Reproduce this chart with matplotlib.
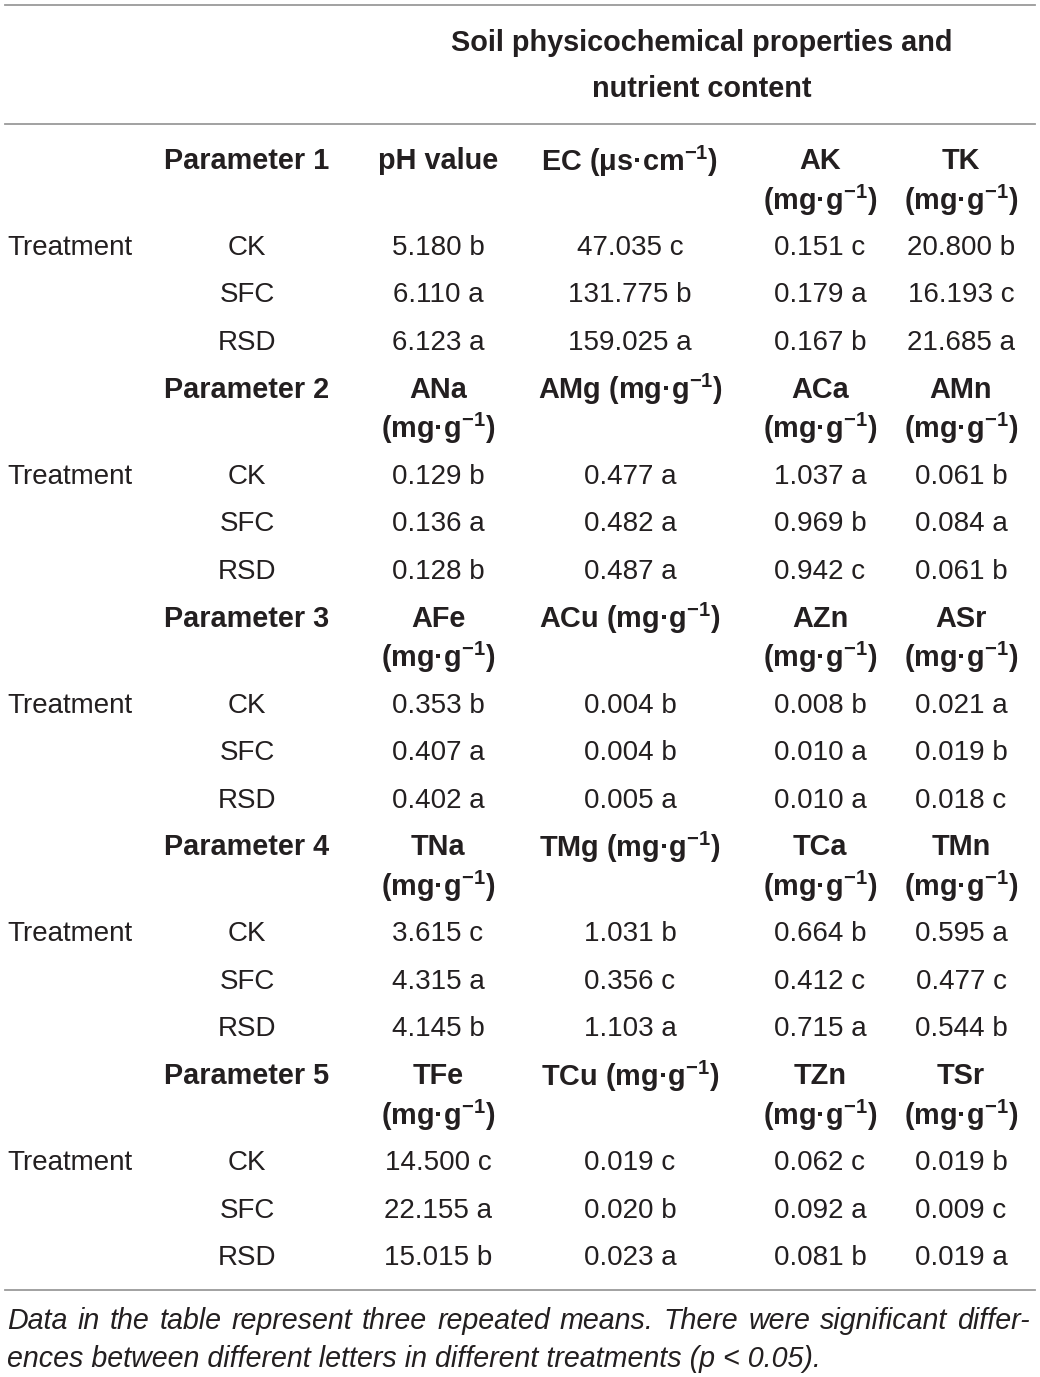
import numpy as np
import matplotlib
matplotlib.use("Agg")
import matplotlib.pyplot as plt

plt.rcParams["font.family"] = ["Liberation Sans", "DejaVu Sans"]
plt.rcParams["mathtext.fontset"] = "custom"
plt.rcParams["mathtext.rm"] = "Liberation Sans"
plt.rcParams["mathtext.bf"] = "Liberation Sans:bold"
plt.rcParams["mathtext.it"] = "Liberation Sans:italic"

# ---- table content ----
treatments = ["CK", "SFC", "RSD"]
param_names = ["Parameter 1", "Parameter 2", "Parameter 3", "Parameter 4", "Parameter 5"]

var_names = [
    ["pH value", "EC", "AK", "TK"],
    ["ANa", "AMg", "ACa", "AMn"],
    ["AFe", "ACu", "AZn", "ASr"],
    ["TNa", "TMg", "TCa", "TMn"],
    ["TFe", "TCu", "TZn", "TSr"],
]
# unit placement: None = no unit, "same" = same line, "below" = second line
var_units = [
    [None, "same_ec", "below", "below"],
    ["below", "same", "below", "below"],
    ["below", "same", "below", "below"],
    ["below", "same", "below", "below"],
    ["below", "same", "below", "below"],
]

values = [
    [[5.180, 6.110, 6.123], [47.035, 131.775, 159.025], [0.151, 0.179, 0.167], [20.800, 16.193, 21.685]],
    [[0.129, 0.136, 0.128], [0.477, 0.482, 0.487], [1.037, 0.969, 0.942], [0.061, 0.084, 0.061]],
    [[0.353, 0.407, 0.402], [0.004, 0.004, 0.005], [0.008, 0.010, 0.010], [0.021, 0.019, 0.018]],
    [[3.615, 4.315, 4.145], [1.031, 0.356, 1.103], [0.664, 0.412, 0.715], [0.595, 0.477, 0.544]],
    [[14.500, 22.155, 15.015], [0.019, 0.020, 0.023], [0.062, 0.092, 0.081], [0.019, 0.009, 0.019]],
]
letters = [
    [["b", "a", "a"], ["c", "b", "a"], ["c", "a", "b"], ["b", "c", "a"]],
    [["b", "a", "b"], ["a", "a", "a"], ["a", "b", "c"], ["b", "a", "b"]],
    [["b", "a", "a"], ["b", "b", "a"], ["b", "a", "a"], ["a", "b", "c"]],
    [["c", "a", "b"], ["b", "c", "a"], ["b", "c", "a"], ["a", "c", "b"]],
    [["c", "a", "b"], ["c", "b", "a"], ["c", "a", "b"], ["b", "c", "a"]],
]

title_lines = ["Soil physicochemical properties and", "nutrient content"]
footnote = ["Data in the table represent three repeated means. There were significant differ-",
            "ences between different letters in different treatments (p < 0.05)."]

# ---- layout ----
W, H = 1040, 1377
fig = plt.figure(figsize=(W / 100, H / 100), dpi=100)
ax = fig.add_axes([0, 0, 1, 1])
ax.set_xlim(0, W)
ax.set_ylim(H, 0)
ax.axis("off")

txt = "#231f20"
fs = 20
fsb = 20.8
fsn = 20.6
col_x = [247, 438, 630, 820, 961]
unit = "(mg\u00b7g$^{\\mathbf{-1}}$)"
unit_ec = "(\u03bcs\u00b7cm$^{\\mathbf{-1}}$)"

for y in [5, 124, 1290]:
    ax.plot([5, 1035], [y, y], color="#9a9a9a", lw=1.3)

ax.text(702, 43, title_lines[0], ha="center", va="center", fontsize=fsb, fontweight="bold", color=txt)
ax.text(702, 89, title_lines[1], ha="center", va="center", fontsize=fsb, fontweight="bold", color=txt)

for g in range(5):
    y0 = 161 + g * 228.8
    ax.text(col_x[0], y0, param_names[g], ha="center", va="center", fontsize=fsb, fontweight="bold", color=txt)
    for j in range(4):
        name = var_names[g][j]
        u = var_units[g][j]
        if u == "same":
            ax.text(col_x[j + 1], y0, name + " " + unit, ha="center", va="center",
                    fontsize=fsb, fontweight="bold", color=txt)
        elif u == "same_ec":
            ax.text(col_x[j + 1], y0, name + " " + unit_ec, ha="center", va="center",
                    fontsize=fsb, fontweight="bold", color=txt)
        else:
            ax.text(col_x[j + 1], y0, name, ha="center", va="center",
                    fontsize=fsb, fontweight="bold", color=txt)
            if u == "below":
                ax.text(col_x[j + 1], y0 + 39, unit, ha="center", va="center",
                        fontsize=fsb, fontweight="bold", color=txt)
    ax.text(7, y0 + 87, "Treatment", ha="left", va="center", fontsize=fs, color=txt)
    for i, t in enumerate(treatments):
        yr = y0 + 87 + i * 47.5
        ax.text(col_x[0], yr, t, ha="center", va="center", fontsize=fs, color=txt)
        for j in range(4):
            s = "%.3f %s" % (values[g][j][i], letters[g][j][i])
            ax.text(col_x[j + 1], yr, s, ha="center", va="center", fontsize=fs, color=txt)

# footnote: first line justified across the table width
renderer = fig.canvas.get_renderer()
words = footnote[0].split(" ")
arts = [ax.text(0, 1321, w, ha="left", va="center", fontsize=fsn, style="italic", color=txt) for w in words]
widths = [a.get_window_extent(renderer).width for a in arts]
gap = (1030 - 7 - sum(widths)) / (len(words) - 1)
x = 7
for a, w in zip(arts, widths):
    a.set_x(x)
    x += w + gap
ax.text(7, 1359, footnote[1], ha="left", va="center", fontsize=fsn, style="italic", color=txt)

fig.savefig("out.png", dpi=100)
